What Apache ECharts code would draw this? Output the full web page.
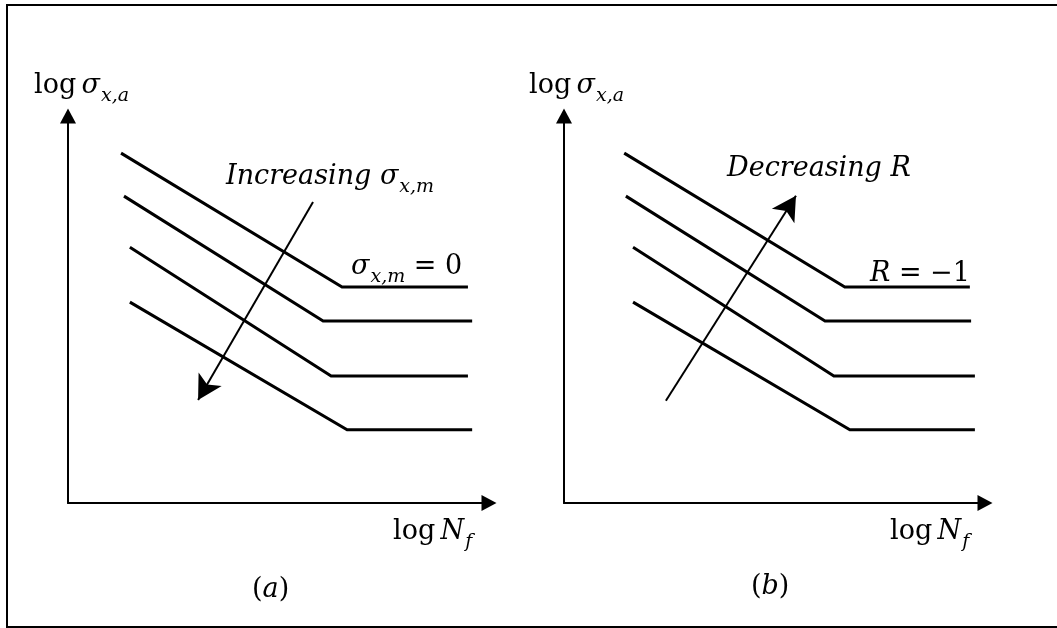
<!DOCTYPE html>
<html>
<head>
<meta charset="utf-8">
<title>S-N curves, mean stress effect</title>
<script src="https://cdn.jsdelivr.net/npm/echarts@6.0.0/dist/echarts.min.js"></script>
<style>
  html, body { margin: 0; padding: 0; background: #fff; }
  #chart { width: 1057px; height: 628px; }
</style>
</head>
<body>
<div id="chart"></div>
<script>
// knee-shaped S-N curves, vertices as [log N, log sigma], top curve first
const curvesA = [
  [[1.26, 9.04], [6.51, 5.58], [9.50, 5.58]],
  [[1.33, 7.93], [6.06, 4.70], [9.60, 4.70]],
  [[1.47, 6.61], [6.25, 3.28], [9.50, 3.28]],
  [[1.47, 5.19], [6.63, 1.89], [9.60, 1.89]],
];
const curvesB = [
  [[1.43, 9.04], [6.67, 5.58], [9.64, 5.58]],
  [[1.47, 7.93], [6.20, 4.70], [9.67, 4.70]],
  [[1.64, 6.61], [6.41, 3.28], [9.76, 3.28]],
  [[1.64, 5.19], [6.79, 1.89], [9.76, 1.89]],
];
// trend arrows: [tail, tip]
const arrowA = [[5.82, 7.78], [3.09, 2.66]];
const arrowB = [[2.42, 2.64], [5.51, 7.94]];

// labels (rich text: u = upright, i = italic, s = subscript)
const yTitle = '{u|log\u2009}{i|σ}{s|x,a}';
const xTitle = '{u|log\u2009}{i|N}{s|f}';
const noteA = '{i|Increasing σ}{s|x,m}';
const baseA = '{i|σ}{s|x,m}{u| = 0}';
const noteB = '{i|Decreasing R}';
const baseB = '{i|R}{u| = −1}';
const panelA = '{u|(}{i|a}{u|)}';
const panelB = '{u|(}{i|b}{u|)}';

const FONT = 'DejaVu Serif';
const rich = {
  u: { fontFamily: FONT, fontSize: 27, lineHeight: 34, verticalAlign: 'top', color: '#000' },
  i: { fontFamily: FONT, fontSize: 27, lineHeight: 34, verticalAlign: 'top', fontStyle: 'italic', color: '#000' },
  s: { fontFamily: FONT, fontSize: 19, lineHeight: 20, verticalAlign: 'top', fontStyle: 'italic', padding: [15, 0, 0, 1], color: '#000' },
};

function label(text, left, top) {
  return { type: 'text', left: left, top: top, style: { text: text, rich: rich } };
}

function axis(idx) {
  return {
    gridIndex: idx,
    type: 'value',
    min: 0,
    max: 10,
    axisLine: {
      show: true,
      symbol: ['none', 'triangle'],
      symbolSize: [16, 15],
      lineStyle: { color: '#000', width: 2 },
    },
    axisTick: { show: false },
    axisLabel: { show: false },
    splitLine: { show: false },
  };
}

function curveSeries(curves, idx) {
  return curves.map((c) => ({
    type: 'line',
    xAxisIndex: idx,
    yAxisIndex: idx,
    data: c,
    symbol: 'none',
    silent: true,
    lineStyle: { color: '#000', width: 3, join: 'miter' },
  }));
}

function arrowSeries(arrow, idx) {
  return {
    type: 'lines',
    coordinateSystem: 'cartesian2d',
    xAxisIndex: idx,
    yAxisIndex: idx,
    color: '#000',
    symbol: ['none', 'arrow'],
    symbolSize: [0, [20, 24]],
    lineStyle: { color: '#000', width: 2, opacity: 1 },
    data: [{ coords: arrow }],
    silent: true,
  };
}

const chart = echarts.init(document.getElementById('chart'), null, { renderer: 'canvas' });

chart.setOption({
  animation: false,
  backgroundColor: '#fff',
  grid: [
    { left: 68, top: 116, width: 421, height: 387 },
    { left: 564, top: 116, width: 421, height: 387 },
  ],
  xAxis: [axis(0), axis(1)],
  yAxis: [axis(0), axis(1)],
  series: [
    ...curveSeries(curvesA, 0),
    ...curveSeries(curvesB, 1),
    arrowSeries(arrowA, 0),
    arrowSeries(arrowB, 1),
  ],
  graphic: [
    {
      type: 'rect',
      shape: { x: 7, y: 5, width: 1100, height: 622 },
      style: { fill: 'none', stroke: '#000', lineWidth: 2 },
      silent: true,
    },
    label(yTitle, 34, 72),
    label(xTitle, 393, 518),
    label(panelA, 252, 576),
    label(noteA, 226, 163),
    label(baseA, 351, 253),
    label(yTitle, 529, 72),
    label(xTitle, 890, 518),
    label(panelB, 751, 573),
    label(noteB, 727, 155),
    label(baseB, 870, 260),
  ],
});
</script>
</body>
</html>
